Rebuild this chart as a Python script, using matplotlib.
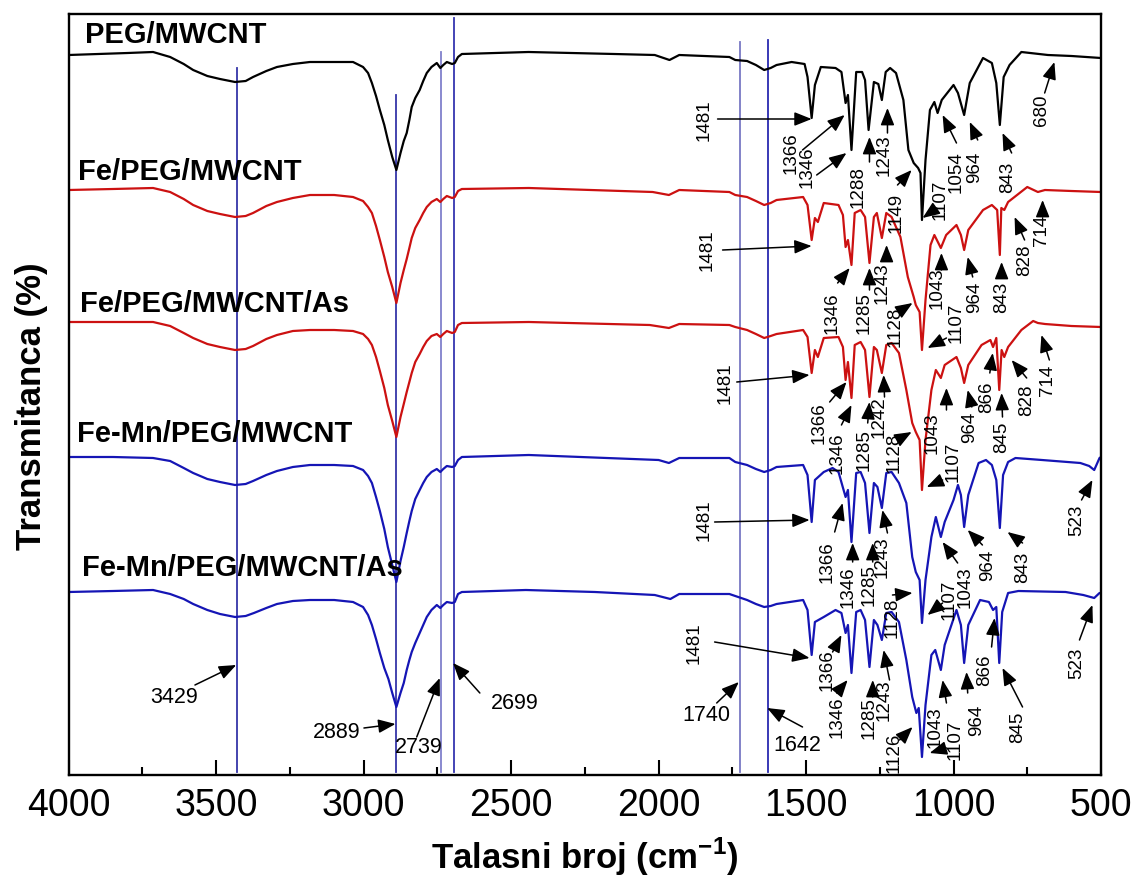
import matplotlib
matplotlib.use('Agg')
import matplotlib.pyplot as plt
from matplotlib.ticker import MultipleLocator

plt.rcParams['font.family'] = ['Liberation Sans', 'DejaVu Sans']
plt.rcParams['mathtext.fontset'] = 'custom'
plt.rcParams['mathtext.rm'] = 'Liberation Sans'
plt.rcParams['mathtext.bf'] = 'Liberation Sans:bold'

# spectra: wavenumber (cm-1) and transmittance (arbitrary units, stacked)
peg_w = [4000, 3900, 3800, 3714, 3656, 3610, 3578, 3530, 3487, 3436, 3400, 3375, 3330, 3294, 3240, 3182,
         3100, 3036, 3002, 2985, 2972, 2958, 2945, 2930, 2918, 2903, 2889, 2875, 2864, 2854, 2845, 2837,
         2825, 2810, 2798, 2786, 2770, 2752, 2740, 2730, 2718, 2700, 2691, 2680, 2667,
         2441, 2150, 2013, 1963, 1930, 1760, 1740, 1700, 1670, 1642, 1620, 1600, 1549, 1505, 1495, 1481,
         1470, 1450, 1400, 1380, 1366, 1358, 1346, 1330, 1310, 1300, 1288, 1270, 1255, 1243, 1230, 1215,
         1195, 1170, 1153, 1135, 1120, 1112, 1107, 1095, 1080, 1065, 1054, 1040, 1000, 985, 964, 945,
         900, 870, 855, 843, 830, 810, 770, 680, 600, 500]
peg_t = [720, 721, 722, 723, 718, 711, 705, 699, 696, 693, 694, 698, 704, 708, 711, 713,
         713, 713, 708, 702, 692, 679, 665, 650, 635, 618, 605, 622, 634, 642, 655, 668,
         677, 685, 694, 702, 708, 712, 707, 710, 713, 711, 712, 718, 721,
         723, 721, 720, 715, 720, 718, 715, 714, 710, 705, 707, 710, 713, 711, 698, 657,
         690, 708, 707, 703, 672, 680, 625, 703, 703, 695, 645, 693, 691, 675, 703, 707,
         702, 675, 625, 612, 607, 602, 555, 615, 665, 673, 662, 675, 690, 682, 660, 692,
         717, 712, 692, 650, 698, 710, 723, 720, 719, 717]

fe_w = [4000, 3850, 3714, 3656, 3610, 3578, 3530, 3487, 3436, 3400, 3375, 3330, 3294, 3240, 3182, 3100,
        3036, 3002, 2985, 2972, 2958, 2945, 2930, 2918, 2903, 2889, 2875, 2864, 2854, 2845, 2837, 2825,
        2810, 2798, 2786, 2770, 2752, 2740, 2730, 2718, 2700, 2691, 2680, 2667,
        2440, 2020, 1965, 1930, 1760, 1740, 1700, 1670, 1642, 1620, 1600, 1510, 1495, 1481, 1470, 1460,
        1440, 1390, 1375, 1366, 1358, 1346, 1335, 1315, 1300, 1285, 1270, 1260, 1243, 1228, 1210, 1180,
        1155, 1135, 1128, 1115, 1107, 1095, 1078, 1065, 1043, 1025, 990, 975, 964, 950, 900, 870,
        852, 843, 838, 828, 815, 750, 714, 690, 600, 500]
fe_t = [585, 586, 587, 583, 576, 570, 564, 561, 558, 559, 562, 569, 573, 577, 580, 580,
        578, 574, 568, 562, 549, 535, 518, 503, 488, 472, 492, 505, 516, 527, 537, 547,
        555, 562, 568, 573, 576, 573, 576, 579, 577, 578, 584, 586,
        587, 583, 580, 585, 583, 580, 578, 574, 570, 572, 575, 578, 570, 535, 557, 553,
        572, 570, 560, 528, 535, 510, 562, 565, 558, 512, 558, 562, 537, 562, 558, 538,
        498, 478, 470, 463, 425, 475, 530, 540, 527, 540, 550, 540, 525, 545, 565, 570,
        565, 520, 567, 565, 573, 588, 583, 585, 584, 583]

feas_w = [4000, 3850, 3714, 3656, 3610, 3578, 3530, 3487, 3436, 3400, 3375, 3330, 3294, 3240, 3182, 3100,
          3036, 3002, 2985, 2972, 2958, 2945, 2930, 2918, 2903, 2889, 2875, 2864, 2854, 2845, 2837, 2825,
          2810, 2798, 2786, 2770, 2752, 2740, 2730, 2718, 2700, 2691, 2680, 2667,
          2440, 2030, 1965, 1930, 1760, 1740, 1700, 1670, 1642, 1620, 1600, 1510, 1495, 1481, 1470, 1460,
          1440, 1390, 1375, 1366, 1358, 1346, 1335, 1315, 1300, 1285, 1270, 1260, 1243, 1228, 1210, 1185,
          1160, 1140, 1128, 1115, 1107, 1095, 1075, 1060, 1043, 1030, 990, 975, 964, 950, 905, 875,
          866, 855, 845, 837, 828, 815, 770, 730, 714, 690, 600, 500]
feas_t = [453, 453, 453, 449, 442, 437, 431, 428, 425, 426, 429, 436, 440, 444, 445, 445,
          444, 441, 436, 430, 418, 404, 387, 370, 354, 338, 358, 371, 383, 393, 402, 413,
          421, 428, 434, 439, 441, 438, 441, 444, 442, 443, 450, 452,
          453, 450, 447, 451, 450, 448, 445, 441, 437, 439, 441, 445, 438, 402, 425, 418,
          437, 438, 428, 395, 413, 377, 430, 433, 425, 378, 428, 425, 402, 430, 432, 422,
          385, 352, 343, 335, 285, 335, 385, 405, 397, 410, 418, 407, 392, 410, 430, 435,
          428, 437, 385, 425, 418, 428, 445, 454, 452, 451, 449, 448]

femn_w = [4000, 3850, 3714, 3656, 3610, 3578, 3530, 3487, 3436, 3400, 3375, 3330, 3294, 3240, 3182, 3100,
          3036, 3002, 2985, 2972, 2958, 2945, 2930, 2918, 2903, 2889, 2875, 2864, 2854, 2845, 2837, 2825,
          2810, 2798, 2786, 2770, 2752, 2740, 2730, 2718, 2700, 2691, 2680, 2667,
          2440, 2000, 1965, 1930, 1760, 1740, 1700, 1670, 1642, 1620, 1600, 1510, 1495, 1481, 1470, 1440,
          1410, 1390, 1366, 1358, 1346, 1330, 1315, 1300, 1285, 1270, 1258, 1243, 1228, 1210, 1185, 1160,
          1140, 1128, 1115, 1107, 1095, 1075, 1060, 1043, 1030, 1000, 985, 975, 964, 950, 915, 890,
          870, 855, 843, 832, 815, 790, 700, 570, 540, 523, 505, 500]
femn_t = [318, 318, 317, 314, 307, 302, 296, 293, 290, 291, 294, 300, 304, 308, 310, 310,
          309, 305, 299, 292, 278, 264, 246, 228, 210, 193, 214, 228, 242, 254, 264, 276,
          285, 292, 298, 303, 306, 303, 306, 309, 308, 309, 315, 318,
          320, 315, 312, 317, 317, 313, 310, 306, 303, 305, 308, 310, 300, 253, 295, 303,
          307, 303, 278, 285, 233, 302, 303, 292, 242, 292, 288, 267, 302, 303, 292, 272,
          218, 203, 195, 152, 195, 238, 258, 238, 253, 275, 290, 280, 248, 280, 312, 315,
          310, 295, 247, 300, 313, 317, 315, 312, 309, 305, 317, 318]

femnas_w = [4000, 3850, 3714, 3656, 3610, 3578, 3530, 3487, 3436, 3400, 3372, 3330, 3294, 3240, 3182, 3100,
            3036, 3002, 2985, 2972, 2958, 2945, 2930, 2916, 2903, 2889, 2875, 2864, 2854, 2845, 2837, 2825,
            2813, 2798, 2786, 2770, 2752, 2740, 2730, 2718, 2700, 2691, 2680, 2667,
            2450, 2216, 2013, 1960, 1930, 1760, 1740, 1700, 1670, 1642, 1620, 1600, 1510, 1495, 1481, 1470,
            1440, 1400, 1380, 1366, 1358, 1346, 1330, 1315, 1300, 1285, 1270, 1258, 1243, 1228, 1210, 1185,
            1160, 1140, 1126, 1118, 1107, 1095, 1075, 1062, 1043, 1030, 990, 975, 964, 950, 910, 880,
            866, 855, 845, 835, 815, 780, 620, 560, 523, 505, 500]
femnas_t = [183, 184, 185, 181, 176, 171, 165, 161, 158, 159, 162, 167, 171, 174, 175, 175,
            173, 168, 160, 150, 136, 122, 107, 96, 82, 68, 82, 92, 105, 115, 123, 132,
            140, 150, 158, 165, 170, 167, 170, 173, 172, 173, 181, 183,
            185, 183, 180, 176, 181, 181, 179, 175, 171, 168, 169, 171, 175, 165, 120, 153,
            158, 165, 162, 142, 150, 102, 163, 165, 155, 108, 155, 150, 135, 162, 163, 153,
            115, 78, 62, 67, 18, 70, 120, 125, 105, 130, 165, 150, 112, 150, 175, 173,
            165, 168, 112, 163, 182, 184, 183, 180, 177, 182, 182]

names = ['PEG/MWCNT', 'Fe/PEG/MWCNT', 'Fe/PEG/MWCNT/As', 'Fe-Mn/PEG/MWCNT', 'Fe-Mn/PEG/MWCNT/As']
colors = ['#000000', '#cc1111', '#cc1111', '#1515b5', '#1515b5']
spectra = [(peg_w, peg_t), (fe_w, fe_t), (feas_w, feas_t), (femn_w, femn_t), (femnas_w, femnas_t)]

# name label positions (wavenumber, baseline)
name_pos = [(3945, 732), (3968, 595), (3962, 463), (3972, 333), (3955, 199)]

# reference lines: wavenumber, top, colour
ref_lines = [(3429, 707, '#3535a8'), (2889, 680, '#3535a8'), (2739, 723, '#8080cc'),
             (2695, 757, '#3535b0'), (1725, 733, '#7878c4'), (1630, 735, '#2a2ab0')]

# (label, text x, text y, arrow tail x, y, arrow head x, y, rotation)
notes = [
    ('3429', 3643, 78, 3572, 90, 3432, 110, 0),
    ('2889', 3091, 43, 2999, 47, 2892, 51, 0),
    ('2739', 2813, 28, 2820, 38, 2742, 97, 0),
    ('2699', 2488, 72, 2606, 82, 2697, 112, 0),
    ('1740', 1837, 60, 1803, 72, 1728, 93, 0),
    ('1642', 1529, 30, 1512, 48, 1632, 67, 0),
    # PEG/MWCNT
    ('1481', 1844, 655, 1800, 656, 1481, 656, 90),
    ('1366', 1549, 622, 1512, 625, 1369, 660, 90),
    ('1346', 1495, 608, 1464, 600, 1363, 622, 90),
    ('1288', 1325, 588, 1285, 613, 1285, 638, 90),
    ('1243', 1234, 620, 1224, 642, 1224, 667, 90),
    ('1149', 1193, 562, 1190, 590, 1142, 605, 90),
    ('1107', 1045, 575, 1057, 567, 1105, 557, 90),
    ('1054', 990, 603, 990, 632, 1037, 660, 90),
    ('964', 928, 608, 918, 635, 945, 653, 90),
    ('843', 817, 598, 803, 622, 834, 642, 90),
    ('680', 702, 665, 691, 682, 658, 713, 90),
    # Fe/PEG/MWCNT
    ('1481', 1837, 525, 1783, 525, 1481, 529, 90),
    ('1346', 1410, 462, 1393, 492, 1352, 507, 90),
    ('1285', 1302, 462, 1285, 485, 1285, 507, 90),
    ('1243', 1241, 492, 1227, 515, 1227, 530, 90),
    ('1128', 1197, 448, 1176, 465, 1139, 472, 90),
    ('1043', 1054, 487, 1041, 505, 1041, 522, 90),
    ('1107', 990, 452, 1024, 437, 1088, 427, 90),
    ('964', 928, 478, 935, 498, 952, 518, 90),
    ('843', 837, 478, 837, 498, 837, 513, 90),
    ('828', 759, 515, 759, 535, 793, 558, 90),
    ('714', 702, 545, 698, 563, 698, 575, 90),
    # Fe/PEG/MWCNT/As
    ('1481', 1776, 392, 1735, 393, 1488, 400, 90),
    ('1366', 1454, 352, 1420, 373, 1363, 393, 90),
    ('1346', 1396, 322, 1380, 350, 1346, 370, 90),
    ('1285', 1302, 325, 1291, 352, 1285, 373, 90),
    ('1242', 1251, 358, 1234, 378, 1237, 400, 90),
    ('1128', 1200, 322, 1190, 335, 1142, 343, 90),
    ('1043', 1071, 342, 1024, 365, 1024, 387, 90),
    ('1107', 1003, 313, 1037, 295, 1091, 288, 90),
    ('964', 945, 348, 938, 368, 952, 385, 90),
    ('866', 888, 378, 877, 402, 867, 422, 90),
    ('845', 837, 338, 834, 358, 837, 382, 90),
    ('828', 752, 375, 752, 397, 803, 415, 90),
    ('714', 681, 395, 675, 415, 702, 440, 90),
    # Fe-Mn/PEG/MWCNT
    ('1481', 1844, 255, 1810, 253, 1488, 255, 90),
    ('1366', 1430, 213, 1403, 243, 1376, 272, 90),
    ('1346', 1359, 188, 1342, 213, 1342, 232, 90),
    ('1285', 1285, 190, 1274, 213, 1274, 232, 90),
    ('1243', 1241, 218, 1224, 242, 1241, 265, 90),
    ('1128', 1207, 157, 1207, 180, 1139, 182, 90),
    ('1107', 1015, 175, 1037, 172, 1088, 160, 90),
    ('1043', 962, 188, 986, 212, 1037, 233, 90),
    ('964', 885, 210, 902, 230, 952, 245, 90),
    ('843', 766, 208, 766, 232, 817, 243, 90),
    ('523', 583, 255, 566, 275, 529, 295, 90),
    # Fe-Mn/PEG/MWCNT/As
    ('1481', 1878, 132, 1810, 133, 1488, 117, 90),
    ('1366', 1430, 105, 1410, 123, 1380, 140, 90),
    ('1346', 1396, 58, 1396, 82, 1359, 95, 90),
    ('1285', 1285, 57, 1274, 78, 1274, 95, 90),
    ('1243', 1234, 75, 1217, 95, 1237, 125, 90),
    ('1126', 1200, 22, 1183, 35, 1139, 48, 90),
    ('1043', 1064, 48, 1024, 72, 1037, 95, 90),
    ('1107', 996, 35, 1024, 27, 1081, 22, 90),
    ('964', 921, 55, 952, 82, 956, 103, 90),
    ('866', 895, 105, 871, 128, 861, 157, 90),
    ('845', 783, 48, 766, 68, 834, 107, 90),
    ('523', 583, 112, 573, 135, 529, 170, 90),
]

fig = plt.figure(figsize=(11.34, 8.8), dpi=100)
ax = fig.add_axes([68.7 / 1134, 1 - 775 / 880, (1101 - 68.7) / 1134, (775 - 14) / 880])

for w, lim, c in ref_lines:
    ax.plot([w, w], [3, lim], color=c, lw=1.3, zorder=1)

for (w, t), c in zip(spectra, colors):
    ax.plot(w, t, color=c, lw=1.6, zorder=2, solid_joinstyle='round')

for name, (x, y) in zip(names, name_pos):
    ax.text(x, y, name, fontsize=21, fontweight='bold', ha='left', va='baseline', zorder=4)

for lab, tx, ty, ax0, ay0, hx, hy, rot in notes:
    fs = 15.5 if rot == 0 else 13.5
    ax.text(tx, ty, lab, fontsize=fs, rotation=rot, ha='center', va='center', zorder=4)
    ax.annotate('', xy=(hx, hy), xytext=(ax0, ay0),
                arrowprops=dict(arrowstyle='-|>,head_length=0.75,head_width=0.3', color='black',
                                lw=1.1, mutation_scale=14, shrinkA=0, shrinkB=0), zorder=4)

ax.set_xlim(4000, 500)
ax.set_ylim(0, 761)
ax.set_yticks([])
ax.xaxis.set_major_locator(MultipleLocator(500))
ax.xaxis.set_minor_locator(MultipleLocator(250))
ax.tick_params(axis='x', which='major', direction='in', length=11, width=1.5, labelsize=27, pad=9)
ax.tick_params(axis='x', which='minor', direction='in', length=5.5, width=1.5)
for s in ax.spines.values():
    s.set_linewidth(1.7)

ax.set_xlabel(r'Talasni broj (cm$^{\mathbf{-1}}$)', fontsize=25, fontweight='bold')
ax.xaxis.set_label_coords(0.5, -0.080)
ax.set_ylabel('Transmitanca (%)', fontsize=25, fontweight='bold')
ax.yaxis.set_label_coords(-0.020, 0.485)

fig.savefig('out.png', dpi=100)
